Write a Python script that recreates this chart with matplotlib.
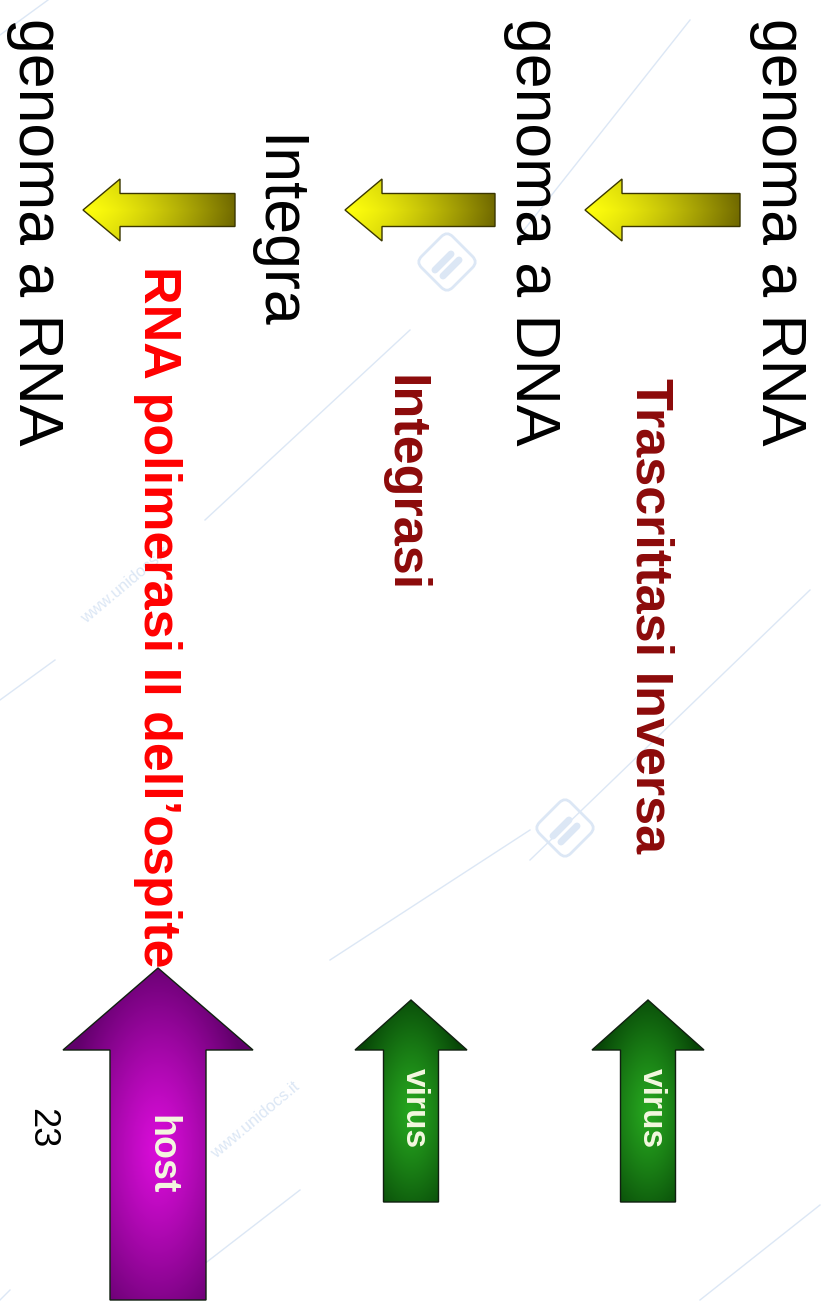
#!/usr/bin/env python3
import numpy as np
import matplotlib

matplotlib.use("Agg")
import matplotlib.pyplot as plt
from matplotlib.patches import Polygon, FancyBboxPatch

# slide content (slide is rotated 90 degrees clockwise)
stage_labels = ["genoma a RNA", "genoma a DNA", "Integra", "genoma a RNA"]
enzyme_labels = ["Trascrittasi Inversa", "Integrasi", "RNA polimerasi II dell\u2019ospite"]
origin_labels = ["virus", "virus", "host"]
page_number = "23"

W, H = 824, 1308
FONT = "Liberation Sans"


def gradient_poly(ax, verts, color_fn, edge="#1a1a00", lw=1.0, z=2):
    verts = np.asarray(verts, dtype=float)
    x0, y0 = verts.min(axis=0)
    x1, y1 = verts.max(axis=0)
    nx, ny = int(x1 - x0) + 1, int(y1 - y0) + 1
    gx, gy = np.meshgrid(np.linspace(0, 1, nx), np.linspace(0, 1, ny))
    img = color_fn(gx, gy)
    poly = Polygon(verts, closed=True, facecolor="none", edgecolor=edge, lw=lw, zorder=z + 1)
    ax.add_patch(poly)
    im = ax.imshow(img, extent=(x0, x1, y1, y0), zorder=z, interpolation="bilinear")
    im.set_clip_path(poly)


def lerp(c0, c1, t):
    c0 = np.array(c0)[None, None, :]
    c1 = np.array(c1)[None, None, :]
    return c0 + (c1 - c0) * t[..., None]


def yellow_fn(gx, gy):
    t = np.clip(gx, 0, 1) ** 1.4
    col = lerp((1.0, 1.0, 0.05), (0.45, 0.42, 0.0), t)
    shade = 1.0 - 0.08 * np.abs(gy - 0.5) * 2
    return np.clip(col * shade[..., None], 0, 1)


def radial_fn(inner, outer, cx=0.5, cy=0.55):
    def fn(gx, gy):
        d = np.sqrt(((gx - cx) / 0.5) ** 2 + ((gy - cy) / 0.6) ** 2)
        return lerp(inner, outer, np.clip(d, 0, 1) ** 1.2)
    return fn


def left_arrow(tip_x, tail_x, yc):
    head_len, head_half, shaft_half = 37, 31, 16.5
    return [(tip_x, yc), (tip_x + head_len, yc - head_half), (tip_x + head_len, yc - shaft_half),
            (tail_x, yc - shaft_half), (tail_x, yc + shaft_half), (tip_x + head_len, yc + shaft_half),
            (tip_x + head_len, yc + head_half)]


def up_arrow(xc, tip_y, base_y, bottom_y, head_half, shaft_half):
    return [(xc, tip_y), (xc + head_half, base_y), (xc + shaft_half, base_y), (xc + shaft_half, bottom_y),
            (xc - shaft_half, bottom_y), (xc - shaft_half, base_y), (xc - head_half, base_y)]


fig = plt.figure(figsize=(W / 100, H / 100), dpi=100)
ax = fig.add_axes([0, 0, 1, 1])
ax.set_xlim(0, W)
ax.set_ylim(H, 0)
ax.axis("off")

# faint watermark lines / logos
wm = "#dce7f5"
for (xa, ya, xb, yb) in [(0, 35, 48, 0), (205, 520, 410, 330), (0, 700, 55, 660),
                         (520, 235, 690, 20), (530, 860, 810, 590), (330, 960, 530, 830),
                         (700, 1300, 820, 1205), (190, 1275, 300, 1190), (0, 1300, 10, 1290)]:
    ax.plot([xa, xb], [ya, yb], color=wm, lw=1.0, zorder=0)
for (lx, ly) in [(447, 262), (565, 828)]:
    box = FancyBboxPatch((lx - 22, ly - 22), 44, 44, boxstyle="round,pad=0,rounding_size=8",
                         facecolor="none", edgecolor=wm, lw=2,
                         transform=matplotlib.transforms.Affine2D().rotate_deg_around(lx, ly, 45) + ax.transData,
                         zorder=0)
    ax.add_patch(box)
    ax.plot([lx - 12, lx + 4], [ly + 8, ly - 8], color=wm, lw=5, solid_capstyle="round", zorder=0)
    ax.plot([lx - 4, lx + 12], [ly + 14, ly - 2], color=wm, lw=5, solid_capstyle="round", zorder=0)
for (tx, ty) in [(125, 585), (255, 1120)]:
    ax.text(tx, ty, "www.unidocs.it", rotation=40, color=wm, fontsize=12, family=FONT,
            ha="center", va="center", zorder=0)

# stage labels (black)
stage_pos = [(779, 18), (533, 18), (276, 135), (35, 18)]
for label, (x, y) in zip(stage_labels, stage_pos):
    ax.text(x, y, label, rotation=-90, ha="center", va="top", fontsize=45, family=FONT,
            color="black", zorder=4)

# enzyme labels
enzyme_pos = [(650, 378), (404, 375), (157, 266)]
enzyme_colors = ["#8c0a0a", "#8c0a0a", "#ff0000"]
for label, (x, y), c in zip(enzyme_labels, enzyme_pos, enzyme_colors):
    ax.text(x, y, label, rotation=-90, ha="center", va="top", fontsize=37.5, family=FONT,
            fontweight="bold", color=c, zorder=5)

# yellow step arrows
for tip_x, tail_x in [(585, 740), (345, 495), (83, 235)]:
    gradient_poly(ax, left_arrow(tip_x, tail_x, 210), yellow_fn, edge="#3a3600", lw=1.0)

# origin arrows
green_fn = radial_fn((0.15, 0.65, 0.12), (0.03, 0.28, 0.03))
purple_fn = radial_fn((0.85, 0.05, 0.85), (0.38, 0.0, 0.42))
origin_geom = [(648, 1000, 1050, 1202, 56, 27.5, green_fn, 1108, 24),
               (411, 1000, 1050, 1202, 56, 27.5, green_fn, 1108, 24),
               (158, 968, 1050, 1300, 95, 48, purple_fn, 1155, 27)]
for label, (xc, ty, by, bot, hh, sh, fn, text_y, fs) in zip(origin_labels, origin_geom):
    gradient_poly(ax, up_arrow(xc, ty, by, bot, hh, sh), fn, edge="#102010", lw=1.0, z=3)
    ax.text(xc + 3, text_y, label, rotation=-90, ha="center", va="center", fontsize=fs, family=FONT,
            fontweight="bold", color="#f4f8e0", zorder=6)

# page number
ax.text(42, 1128, page_number, rotation=-90, ha="center", va="center", fontsize=26, family=FONT,
        color="black", zorder=4)

fig.savefig("out.png", dpi=100, facecolor="white")
